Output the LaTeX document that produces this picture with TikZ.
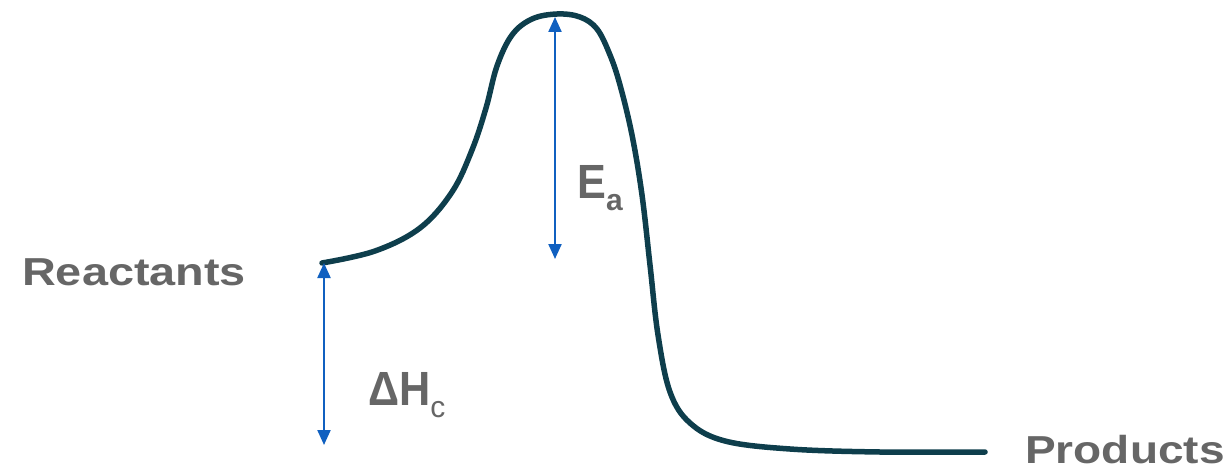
\documentclass[tikz,border=0pt]{standalone}
\usepackage{fontspec}
\setmainfont{Liberation Sans}
\usetikzlibrary{arrows.meta}
\definecolor{curvecol}{RGB}{14,62,76}
\definecolor{arrcol}{RGB}{16,96,192}
\definecolor{txtcol}{RGB}{102,102,102}
\tikzset{
  curve/.style={draw=curvecol,line width=5.5pt,line cap=round},
  darrow/.style={draw=arrcol,line width=2.2pt,{Triangle[length=15pt,width=13pt]}-{Triangle[length=15pt,width=13pt]}},
  lbl/.style={text=txtcol,inner sep=0pt,anchor=base west,font=\bfseries}
}
\begin{document}
\begin{tikzpicture}[x=1pt,y=-1pt]
\useasboundingbox (0,0) rectangle (1230,473);
\coordinate (react) at (322,263);
\coordinate (peak) at (556,14);
\coordinate (prod) at (985,452);
\draw[curve] plot[smooth,tension=0.6] coordinates {
 (322,263) (375,251) (420,228) (452,192) (472,150) (486,108) (497,66) (512,35) (532,19) (557,14)
 (580,17) (597,29) (610,55) (620,85) (632,135) (642,195) (650,265) (658,335) (670,392) (690,423)
 (725,441) (790,449) (880,452) (985,452)};
\coordinate (dhtop) at (324,263);
\coordinate (dhbot) at (324,445);
\coordinate (eatop) at (555,17);
\coordinate (eabot) at (555,259);
\draw[darrow] (dhtop) -- (dhbot);
\draw[darrow] (eatop) -- (eabot);
\node[lbl] (rl) at (22,285) {\scalebox{1.2}[1]{\fontsize{39}{40}\selectfont Reactants}};
\node[lbl] (pl) at (1025,463) {\scalebox{1.18}[1]{\fontsize{39}{44}\selectfont Products}};
\node[lbl] (ea) at (577,198) {\scalebox{0.9}[1]{\fontsize{48}{50}\selectfont E}\raisebox{-12pt}{\fontsize{30}{30}\selectfont a}};
\node[lbl] (dh) at (368,405) {\scalebox{0.9}[1]{\fontsize{48}{50}\selectfont ΔH}\raisebox{-12pt}{\fontsize{30}{30}\selectfont\mdseries c}};
\end{tikzpicture}
\end{document}
